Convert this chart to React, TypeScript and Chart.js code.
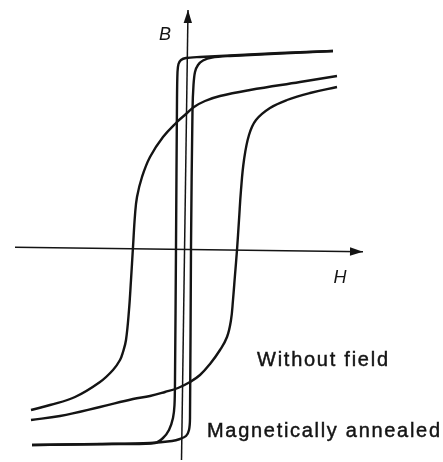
import { useEffect, useRef } from "react";
import { Chart, registerables } from "chart.js";

Chart.register(...registerables);

// Field strength H and flux density B in arbitrary units.

// Loop measured without a field: descending branch (from +H to -H)
const withoutFieldDownH = [1.52, 1.15, 0.65, 0.35, 0.2, 0.09, 0.01, -0.08, -0.22, -0.35, -0.43, -0.48, -0.5, -0.52, -0.54, -0.56, -0.59, -0.62, -0.65, -0.72, -0.85, -1.1, -1.35, -1.54];
const withoutFieldDownB = [1.71, 1.65, 1.57, 1.51, 1.46, 1.4, 1.33, 1.25, 1.1, 0.9, 0.7, 0.5, 0.32, 0.0, -0.33, -0.63, -0.93, -1.05, -1.13, -1.23, -1.35, -1.5, -1.58, -1.63];

// Loop measured without a field: ascending branch (from -H to +H)
const withoutFieldUpH = [-1.54, -1.25, -0.85, -0.52, -0.35, -0.2, -0.07, 0.05, 0.15, 0.25, 0.35, 0.42, 0.46, 0.48, 0.5, 0.52, 0.54, 0.56, 0.59, 0.64, 0.71, 0.85, 1.02, 1.25, 1.52];
const withoutFieldUpB = [-1.73, -1.69, -1.6, -1.52, -1.49, -1.45, -1.41, -1.35, -1.28, -1.17, -1.03, -0.9, -0.73, -0.53, -0.28, -0.03, 0.27, 0.57, 0.87, 1.12, 1.27, 1.39, 1.47, 1.54, 1.6];

// Magnetically annealed loop: descending branch
const annealedDownH = [1.48, 0.95, 0.45, 0.15, 0.01, -0.04, -0.065, -0.075, -0.08, -0.09, -0.1, -0.105, -0.12, -0.16, -0.22, -0.3, -0.65, -1.15, -1.53];
const annealedDownB = [1.96, 1.94, 1.915, 1.9, 1.89, 1.87, 1.83, 1.75, 1.47, 0.0, -1.33, -1.58, -1.71, -1.83, -1.91, -1.96, -1.97, -1.975, -1.98];

// Magnetically annealed loop: ascending branch
const annealedUpH = [-1.53, -0.85, -0.35, -0.13, -0.05, 0.01, 0.04, 0.05, 0.06, 0.075, 0.085, 0.1, 0.13, 0.18, 0.27, 0.45, 0.95, 1.48];
const annealedUpB = [-1.98, -1.97, -1.96, -1.94, -1.92, -1.89, -1.83, -1.71, 0.0, 1.37, 1.62, 1.75, 1.82, 1.865, 1.895, 1.91, 1.935, 1.96];

// Coordinate axes (start point, arrow tip)
const hAxisH = [-1.7, 1.78];
const hAxisB = [-0.003, -0.047];
const bAxisH = [-0.035, 0.03];
const bAxisB = [-2.13, 2.37];

// Axis titles and curve captions
const labelTexts = ["B", "H", "Without field", "Magnetically annealed"];
const labelH = [-0.2, 1.55, 0.72, 0.22];
const labelB = [2.12, -0.31, -1.19, -1.9];
const labelEndH = [null, null, 2.03, 2.55];

const H_MIN = -1.85;
const H_MAX = 2.58;
const B_MIN = -2.15;
const B_MAX = 2.47;

const INK = "#141414";

function toPoints(xs: number[], ys: number[]) {
  return xs.map((x, i) => ({ x, y: ys[i] }));
}

const arrowPlugin = {
  id: "axisArrows",
  afterDatasetsDraw(chart: any) {
    const ctx = chart.ctx as CanvasRenderingContext2D;
    chart.data.datasets.forEach((ds: any, i: number) => {
      if (!ds.arrow) return;
      const pts = chart.getDatasetMeta(i).data;
      const a = pts[pts.length - 2];
      const b = pts[pts.length - 1];
      const dx = b.x - a.x;
      const dy = b.y - a.y;
      const len = Math.hypot(dx, dy);
      const ux = dx / len;
      const uy = dy / len;
      const L = 13;
      const W = 4.2;
      ctx.save();
      ctx.fillStyle = INK;
      ctx.beginPath();
      ctx.moveTo(b.x, b.y);
      ctx.lineTo(b.x - ux * L - uy * W, b.y - uy * L + ux * W);
      ctx.lineTo(b.x - ux * L + uy * W, b.y - uy * L - ux * W);
      ctx.closePath();
      ctx.fill();
      ctx.restore();
    });
  },
};

const labelPlugin = {
  id: "captions",
  afterDraw(chart: any) {
    const ctx = chart.ctx as CanvasRenderingContext2D;
    const xs = chart.scales.x;
    const ys = chart.scales.y;
    ctx.save();
    ctx.fillStyle = INK;
    ctx.strokeStyle = INK;
    ctx.lineWidth = 0.45;
    labelTexts.forEach((text, i) => {
      const x = xs.getPixelForValue(labelH[i]);
      const y = ys.getPixelForValue(labelB[i]);
      const end = labelEndH[i];
      if (end === null) {
        ctx.font = "italic 18px 'Liberation Sans', Arial, sans-serif";
        ctx.textAlign = "center";
        ctx.textBaseline = "middle";
        (ctx as any).letterSpacing = "0px";
        ctx.fillText(text, x, y);
      } else {
        ctx.font = "20px 'Liberation Sans', Arial, sans-serif";
        ctx.textAlign = "left";
        ctx.textBaseline = "alphabetic";
        (ctx as any).letterSpacing = "0px";
        const natural = ctx.measureText(text).width;
        const target = xs.getPixelForValue(end) - x;
        const spacing = Math.max(0, (target - natural) / Math.max(1, text.length - 1));
        (ctx as any).letterSpacing = spacing.toFixed(2) + "px";
        ctx.fillText(text, x, y);
        ctx.strokeText(text, x, y);
      }
    });
    ctx.restore();
  },
};

export default function App() {
  const canvasRef = useRef<HTMLCanvasElement>(null);

  useEffect(() => {
    if (!canvasRef.current) return;
    const curve = (xs: number[], ys: number[], tension: number) => ({
      data: toPoints(xs, ys),
      showLine: true,
      borderColor: INK,
      borderWidth: 2.4,
      pointRadius: 0,
      tension,
      fill: false,
      clip: false as any,
    });
    const axis = (xs: number[], ys: number[]) => ({
      data: toPoints(xs, ys),
      showLine: true,
      borderColor: INK,
      borderWidth: 1.5,
      pointRadius: 0,
      tension: 0,
      fill: false,
      arrow: true,
      clip: false as any,
    });
    const chart = new Chart(canvasRef.current, {
      type: "scatter",
      data: {
        datasets: [
          axis(hAxisH, hAxisB),
          axis(bAxisH, bAxisB),
          curve(withoutFieldDownH, withoutFieldDownB, 0.4),
          curve(withoutFieldUpH, withoutFieldUpB, 0.4),
          curve(annealedDownH, annealedDownB, 0.3),
          curve(annealedUpH, annealedUpB, 0.3),
        ] as any,
      },
      options: {
        animation: false,
        responsive: true,
        maintainAspectRatio: false,
        layout: { padding: 0 },
        plugins: {
          legend: { display: false },
          tooltip: { enabled: false },
          title: { display: false },
        },
        scales: {
          x: { type: "linear", min: H_MIN, max: H_MAX, display: false },
          y: { type: "linear", min: B_MIN, max: B_MAX, display: false },
        },
      },
      plugins: [arrowPlugin, labelPlugin],
    });
    return () => chart.destroy();
  }, []);

  return (
    <div
      style={{
        position: "fixed",
        left: 0,
        top: 0,
        width: 443,
        height: 462,
        background: "#ffffff",
      }}
    >
      <canvas ref={canvasRef} />
    </div>
  );
}
